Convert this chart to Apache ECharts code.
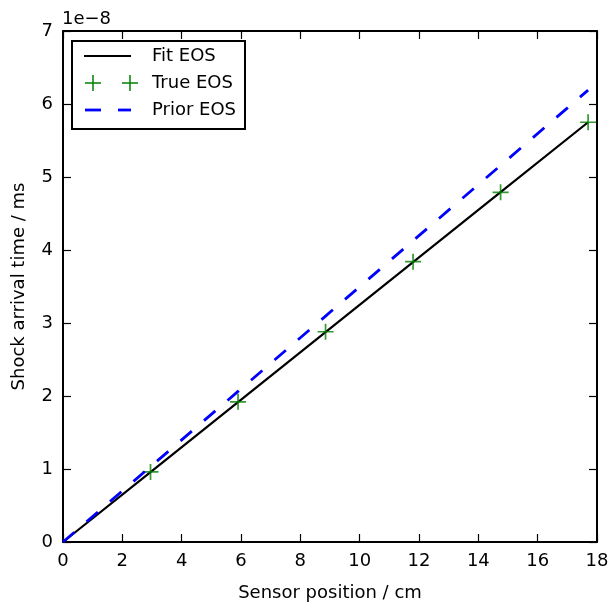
<!DOCTYPE html>
<html>
<head>
<meta charset="utf-8">
<script src="https://cdn.jsdelivr.net/npm/echarts@6/dist/echarts.min.js"></script>
<style>html,body{margin:0;padding:0;background:#fff}#c{width:608px;height:604px}</style>
</head>
<body>
<div id="c"></div>
<script>
// Data (y values in units of 1e-8 ms)
var sensorPos = [0, 2.95, 5.9, 8.85, 11.8, 14.75, 17.7];
var fitTime   = [0, 0.958, 1.917, 2.875, 3.833, 4.792, 5.75];
var trueTime  = [null, 0.96, 1.92, 2.88, 3.84, 4.79, 5.75];
var priorTime = [0, 1.032, 2.063, 3.095, 4.127, 5.158, 6.19];
var xTicks = [0, 2, 4, 6, 8, 10, 12, 14, 16, 18];
var yTicks = [0, 1, 2, 3, 4, 5, 6, 7];
var seriesNames = ['Fit EOS', 'True EOS', 'Prior EOS'];
var xLabel = 'Sensor position / cm';
var yLabel = 'Shock arrival time / ms';
var offsetText = '1e\u22128';

function pairs(xs, ys) {
  var out = [];
  for (var i = 0; i < xs.length; i++) if (ys[i] !== null) out.push([xs[i], ys[i]]);
  return out;
}

var font = 'DejaVu Sans';
var fs = 18;
var plus = 'path://M7.15,0H8.85V7.15H16V8.85H8.85V16H7.15V8.85H0V7.15H7.15Z';

var chart = echarts.init(document.getElementById('c'), null, {renderer: 'canvas'});

function axisCommon(show) {
  return {
    axisLine: {show: true, onZero: false, lineStyle: {color: '#000', width: 2}},
    axisTick: {show: true, inside: true, length: 8, lineStyle: {color: '#000', width: 1.2}},
    splitLine: {show: false},
    axisLabel: {show: show, color: '#000', fontFamily: font, fontSize: fs}
  };
}

var xMain = Object.assign(axisCommon(true), {
  type: 'value', min: xTicks[0], max: xTicks[xTicks.length - 1], interval: xTicks[1] - xTicks[0],
  position: 'bottom', name: xLabel, nameLocation: 'middle', nameGap: 42,
  nameTextStyle: {color: '#000', fontFamily: font, fontSize: fs}
});
xMain.axisLabel.margin = 10;
var xTop = Object.assign(axisCommon(false), {
  type: 'value', min: xTicks[0], max: xTicks[xTicks.length - 1], interval: xTicks[1] - xTicks[0], position: 'top'
});
var yMain = Object.assign(axisCommon(true), {
  type: 'value', min: yTicks[0], max: yTicks[yTicks.length - 1], interval: yTicks[1] - yTicks[0],
  position: 'left', name: yLabel, nameLocation: 'middle', nameGap: 35,
  nameTextStyle: {color: '#000', fontFamily: font, fontSize: fs}
});
yMain.axisLabel.margin = 10;
var yRight = Object.assign(axisCommon(false), {
  type: 'value', min: yTicks[0], max: yTicks[yTicks.length - 1], interval: yTicks[1] - yTicks[0], position: 'right'
});

// Legend drawn as graphic (matplotlib style box)
var lx = 72, ly = 41;
function seg(x1, y1, x2, y2, color, w) {
  return {type: 'line', shape: {x1: x1, y1: y1, x2: x2, y2: y2}, style: {stroke: color, lineWidth: w}};
}
function txt(x, y, s) {
  return {type: 'text', x: x, y: y, style: {text: s, fill: '#000', font: fs + 'px "' + font + '"', verticalAlign: 'middle'}};
}
var legendGraphic = {
  type: 'group', x: lx, y: ly, z: 100,
  children: [
    {type: 'rect', shape: {x: 0, y: 0, width: 173, height: 88}, style: {fill: '#fff', stroke: '#000', lineWidth: 2}},
    seg(12, 15, 59, 15, '#000', 2.2),
    txt(80, 15, seriesNames[0]),
    seg(13, 42, 29, 42, '#008000', 1.5), seg(21, 34, 21, 50, '#008000', 1.5),
    seg(50, 42, 66, 42, '#008000', 1.5), seg(58, 34, 58, 50, '#008000', 1.5),
    txt(80, 42, seriesNames[1]),
    seg(13, 69, 29, 69, '#0000ff', 2.8), seg(46, 69, 59, 69, '#0000ff', 2.8),
    txt(80, 69, seriesNames[2])
  ]
};

chart.setOption({
  backgroundColor: '#fff',
  animation: false,
  grid: {left: 63, right: 11, top: 31, bottom: 62, containLabel: false, outerBoundsMode: 'none'},
  xAxis: [xMain, xTop],
  yAxis: [yMain, yRight],
  series: [
    {name: seriesNames[0], type: 'line', data: pairs(sensorPos, fitTime), symbol: 'none',
     lineStyle: {color: '#000', width: 2.2}, z: 2},
    {name: seriesNames[1], type: 'scatter', data: pairs(sensorPos, trueTime), symbol: plus, symbolSize: 16,
     itemStyle: {color: '#008000'}, z: 3},
    {name: seriesNames[2], type: 'line', data: pairs(sensorPos, priorTime), symbol: 'none',
     lineStyle: {color: '#0000ff', width: 2.8, type: [15, 16]}, z: 4}
  ],
  graphic: [
    legendGraphic,
    {type: 'text', x: 62, y: 19, z: 100, style: {text: offsetText, fill: '#000', font: fs + 'px "' + font + '"', verticalAlign: 'middle'}}
  ]
});
</script>
</body>
</html>
